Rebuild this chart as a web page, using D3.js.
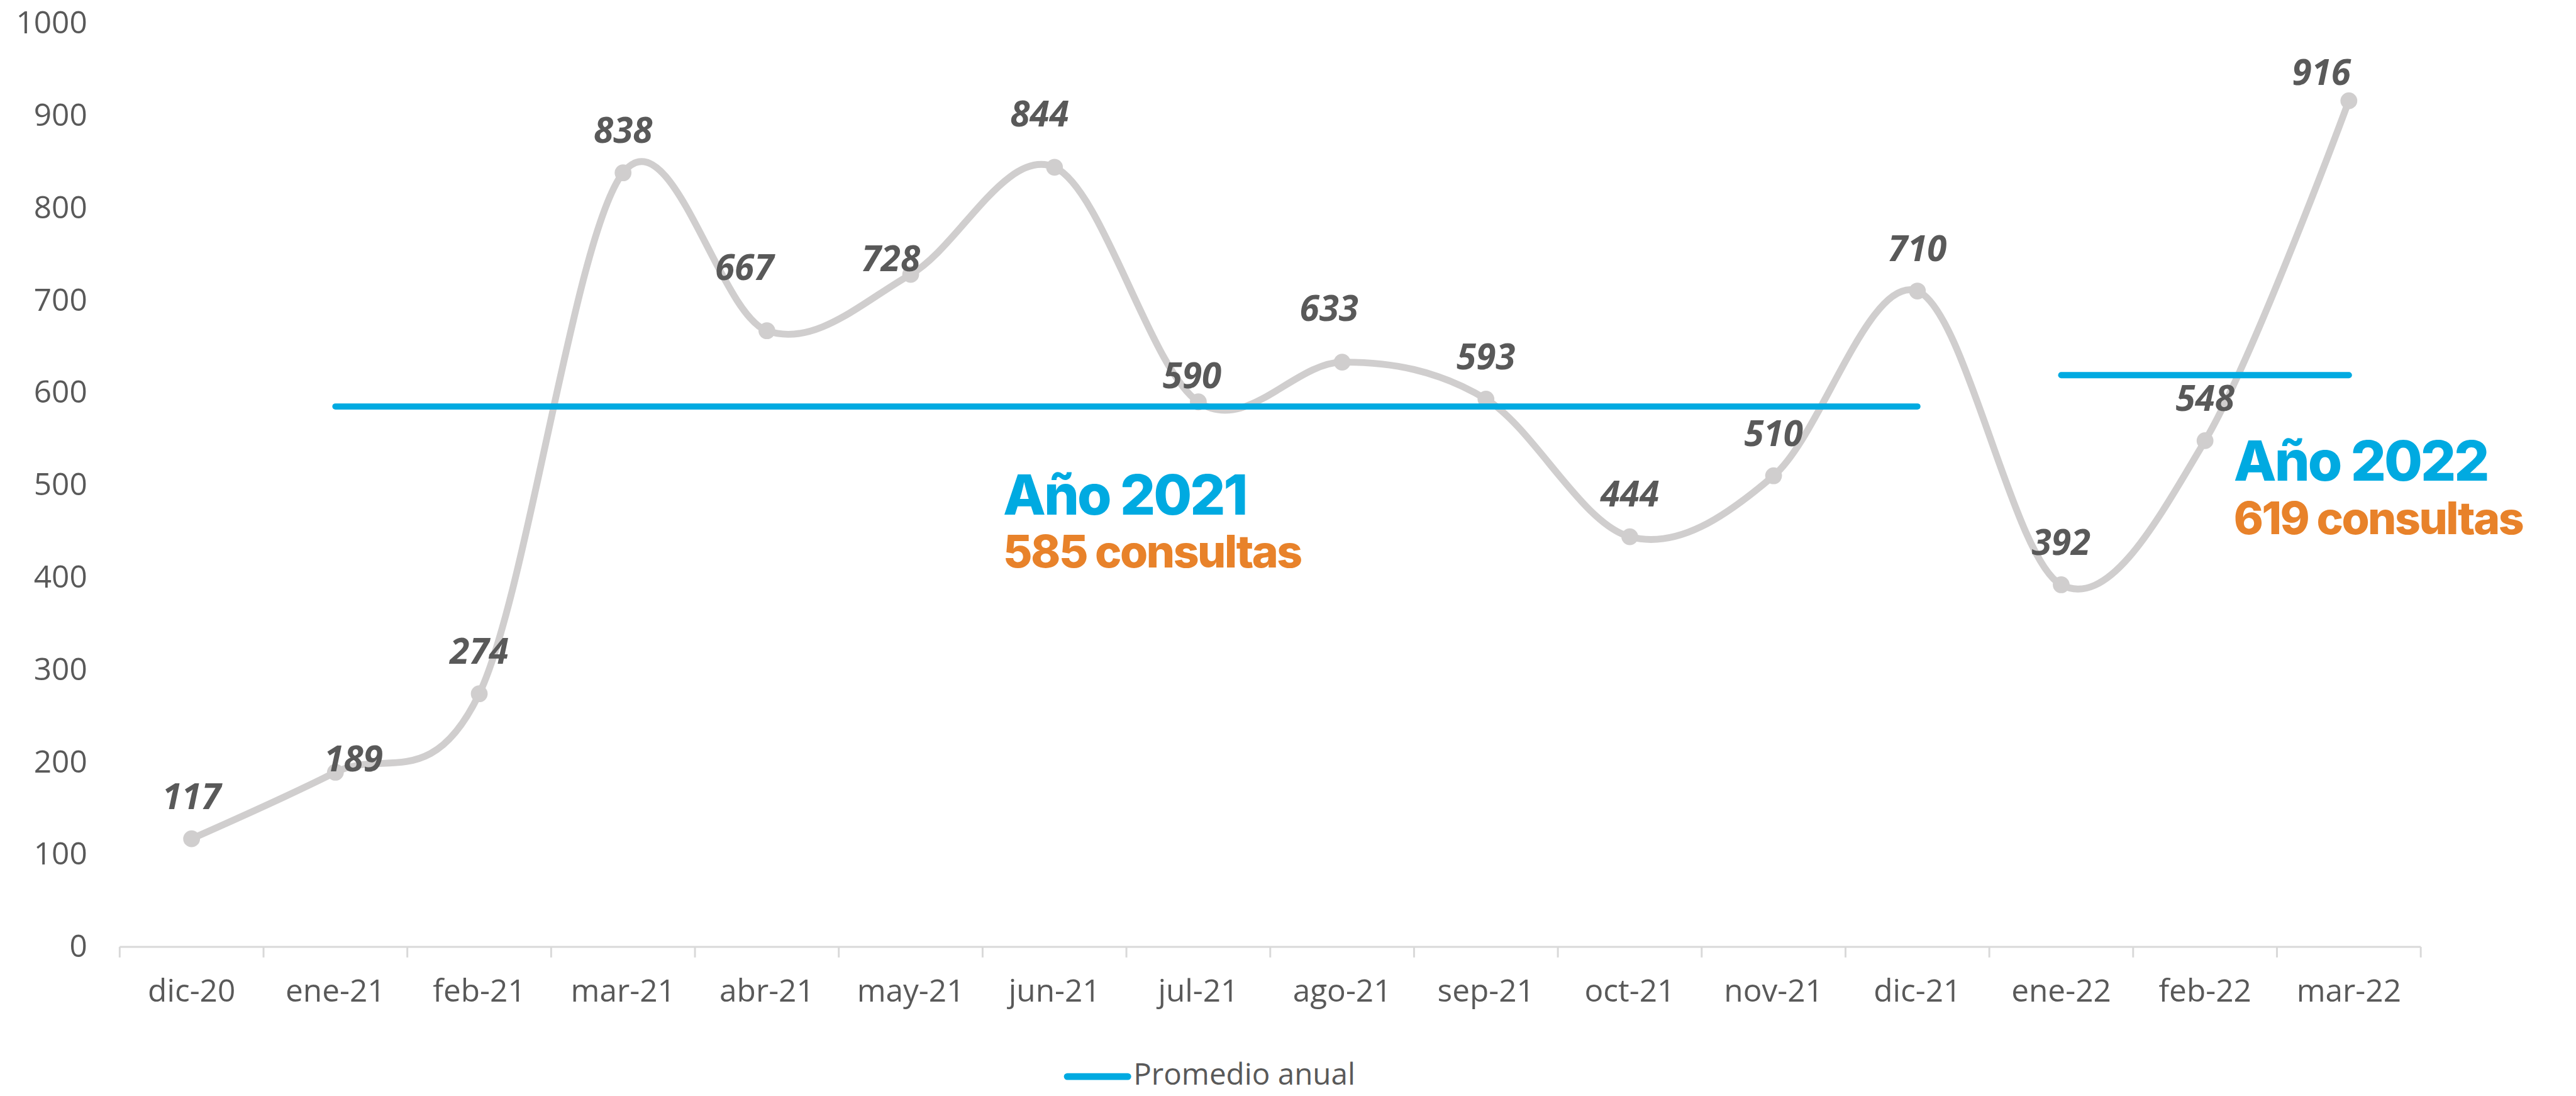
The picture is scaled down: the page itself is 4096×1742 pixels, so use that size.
<!DOCTYPE html>
<html>
<head>
<meta charset="utf-8">
<script src="https://cdn.jsdelivr.net/npm/d3@7/dist/d3.min.js"></script>
<style>
  html, body { margin: 0; padding: 0; background: #fff; overflow: hidden; }
  svg { display: block; }
</style>
</head>
<body>
<svg id="chart"></svg>
<script>
// monthly consultations
const months = ['dic-20', 'ene-21', 'feb-21', 'mar-21', 'abr-21', 'may-21', 'jun-21', 'jul-21',
  'ago-21', 'sep-21', 'oct-21', 'nov-21', 'dic-21', 'ene-22', 'feb-22', 'mar-22'];
const consultas = [117, 189, 274, 838, 667, 728, 844, 590, 633, 593, 444, 510, 710, 392, 548, 916];
const yTicks = [0, 100, 200, 300, 400, 500, 600, 700, 800, 900, 1000];

// yearly averages
const avgYears = ['Año 2021', 'Año 2022'];
const avgValues = [585, 619];
const avgFrom = ['ene-21', 'ene-22'];
const avgTo = ['dic-21', 'mar-22'];
const legendLabel = 'Promedio anual';

// hand nudges of the data labels (px, reference size), as placed in the original
const labelNudge = [[0, 0], [29, 47], [0, 0], [0, 0], [-36, -33], [-32, 43], [-24, -17], [-10, 26],
  [-21, -18], [0, 0], [0, 0], [0, 0], [0, 0], [0, 0], [0, 0], [-44, 23]];

const W = 4132, H = 1757;
const grey = '#595959';
const lineGrey = '#d0cece';
const blue = '#00aae1';
const orange = '#e8822a';
const bodyFont = "'Open Sans', 'Liberation Sans', sans-serif";
const titleFont = "Inter, Roboto, sans-serif";

const svg = d3.select('#chart')
  .attr('width', 4096)
  .attr('height', 1742)
  .attr('viewBox', `0 0 ${W} ${H}`);

const x = d3.scaleBand().domain(months).range([192, 3883]);
const y = d3.scaleLinear().domain([0, 1000]).range([1518, 37]);
const cx = m => x(m) + x.bandwidth() / 2;

// y axis labels
svg.append('g')
  .attr('transform', 'translate(140,0)')
  .call(d3.axisLeft(y).tickValues(yTicks).tickFormat(d3.format('d')).tickSize(0).tickPadding(0))
  .call(g => g.select('.domain').remove())
  .selectAll('text')
    .attr('font-family', bodyFont)
    .attr('font-size', 50)
    .attr('fill', grey);

// x axis
const xAxis = svg.append('g')
  .attr('transform', 'translate(0,1518)')
  .call(d3.axisBottom(x).tickSize(0));
xAxis.select('.domain').remove();
xAxis.selectAll('text')
  .attr('y', 88)
  .attr('dy', null)
  .attr('font-family', bodyFont)
  .attr('font-size', 50)
  .attr('fill', grey);

const bounds = months.map(m => x(m)).concat([x.range()[1]]);
xAxis.append('line')
  .attr('x1', x.range()[0]).attr('x2', x.range()[1])
  .attr('stroke', '#d9d9d9').attr('stroke-width', 3);
xAxis.selectAll('.bound')
  .data(bounds)
  .enter().append('line')
    .attr('class', 'bound')
    .attr('x1', d => d).attr('x2', d => d)
    .attr('y1', 0).attr('y2', 17)
    .attr('stroke', '#d9d9d9').attr('stroke-width', 3);

// smoothed series
const line = d3.line()
  .x((d, i) => cx(months[i]))
  .y(d => y(d))
  .curve(d3.curveCatmullRom.alpha(0));

svg.append('path')
  .datum(consultas)
  .attr('d', line)
  .attr('fill', 'none')
  .attr('stroke', lineGrey)
  .attr('stroke-width', 11);

svg.selectAll('.dot')
  .data(consultas)
  .enter().append('circle')
    .attr('class', 'dot')
    .attr('cx', (d, i) => cx(months[i]))
    .attr('cy', d => y(d))
    .attr('r', 13.5)
    .attr('fill', lineGrey);

// yearly average lines
svg.selectAll('.avg')
  .data(avgValues)
  .enter().append('line')
    .attr('class', 'avg')
    .attr('x1', (d, i) => cx(avgFrom[i]))
    .attr('x2', (d, i) => cx(avgTo[i]))
    .attr('y1', d => y(d))
    .attr('y2', d => y(d))
    .attr('stroke', blue)
    .attr('stroke-width', 10)
    .attr('stroke-linecap', 'round');

// data labels
svg.selectAll('.val')
  .data(consultas)
  .enter().append('text')
    .attr('class', 'val')
    .attr('x', (d, i) => cx(months[i]) + labelNudge[i][0])
    .attr('y', (d, i) => y(d) - 48 + labelNudge[i][1])
    .attr('text-anchor', 'middle')
    .attr('font-family', bodyFont)
    .attr('font-size', 57)
    .attr('font-weight', 700)
    .attr('font-style', 'italic')
    .attr('fill', grey)
    .text(d => d);

// annotations for the averages
const annPos = [[1609, 825], [3583, 771]];
avgYears.forEach((label, i) => {
  const g = svg.append('g').attr('transform', `translate(${annPos[i][0]},${annPos[i][1]})`);
  g.append('text')
    .attr('font-family', titleFont)
    .attr('font-weight', 800)
    .attr('font-size', 89)
    .attr('letter-spacing', -3)
    .attr('fill', blue)
    .text(label);
  g.append('text')
    .attr('y', 85)
    .attr('font-family', titleFont)
    .attr('font-weight', 800)
    .attr('font-size', 72)
    .attr('letter-spacing', -2.5)
    .attr('fill', orange)
    .text(`${avgValues[i]} consultas`);
});

// legend
const legend = svg.append('g').attr('transform', 'translate(1712,1726)');
legend.append('line')
  .attr('x1', 0).attr('x2', 97)
  .attr('stroke', blue)
  .attr('stroke-width', 11)
  .attr('stroke-linecap', 'round');
legend.append('text')
  .attr('x', 106)
  .attr('y', 13)
  .attr('font-family', bodyFont)
  .attr('font-size', 48)
  .attr('fill', grey)
  .text(legendLabel);
</script>
</body>
</html>
